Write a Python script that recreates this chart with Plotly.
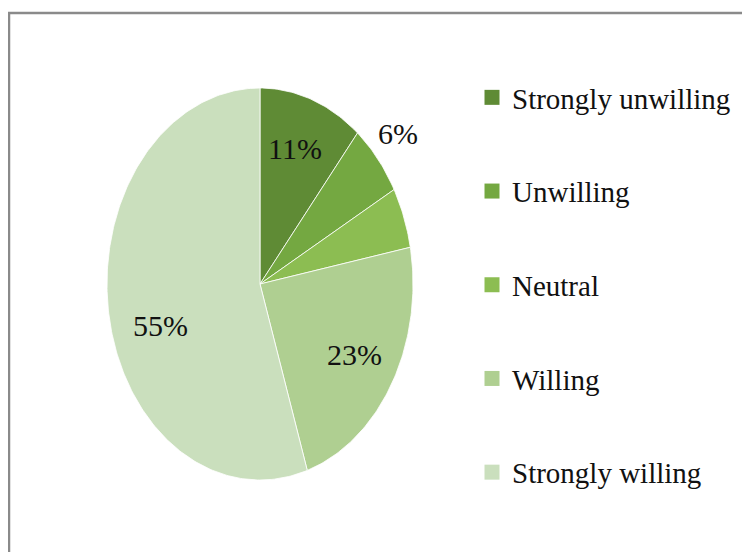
import numpy as np
import plotly.graph_objects as go

categories = ["Strongly unwilling", "Unwilling", "Neutral", "Willing", "Strongly willing"]
values = [11, 6, 5, 23, 55]
colors = ["#5F8B35", "#74A841", "#8CBD52", "#AFCF91", "#CADFBD"]

# label placement in unit (data) space, per slice
label_pos = [(0.23, 0.69), (0.90, 0.77), (1.08, 0.34), (0.62, -0.36), (-0.65, -0.21)]

W, H = 750, 552
OFF = 8  # page body margin offset
pie_left, pie_right, pie_top, pie_bottom = 107 - OFF, 413 - OFF, 88 - OFF, 480 - OFF

fig = go.Figure()
total = sum(values)
cum = 0.0
for cat, v, c in zip(categories, values, colors):
    a0 = 2 * np.pi * cum / total
    a1 = 2 * np.pi * (cum + v) / total
    t = np.linspace(a0, a1, max(8, int(v * 4)))
    xs = np.concatenate([[0], np.sin(t), [0]])
    ys = np.concatenate([[0], np.cos(t), [0]])
    fig.add_trace(go.Scatter(x=xs, y=ys, mode="lines", fill="toself", fillcolor=c,
                             line=dict(color="rgba(255,255,255,0.8)", width=1),
                             showlegend=False, hoverinfo="skip"))
    cum += v

for i, (cat, c) in enumerate(zip(categories, colors)):
    fig.add_trace(go.Scatter(x=[None], y=[None], mode="markers", name=cat,
                             legendgroup=str(i),
                             marker=dict(symbol="square", size=15, color=c)))

for v, (lx, ly) in zip(values, label_pos):
    fig.add_annotation(x=lx, y=ly, xref="x", yref="y", text=f"{v}%", showarrow=False,
                       font=dict(family="Liberation Serif", size=30, color="#111"))

# border of the chart frame
fig.add_shape(type="path", xref="paper", yref="paper",
              path=f"M {1/W} 0 L {1/W} {1-5/H} L 1 {1-5/H}",
              line=dict(color="#8a8a8a", width=2.5))

fig.update_layout(
    width=W, height=H,
    margin=dict(l=0, r=0, t=0, b=0),
    paper_bgcolor="white", plot_bgcolor="white",
    xaxis=dict(range=[-1, 1], domain=[pie_left / W, pie_right / W], visible=False, fixedrange=True),
    yaxis=dict(range=[-1, 1], domain=[1 - pie_bottom / H, 1 - pie_top / H], visible=False, fixedrange=True),
    legend=dict(x=(472 - OFF) / W, y=1 - (80 - 2 * OFF) / H, xanchor="left", yanchor="top",
                font=dict(family="Liberation Serif", size=29, color="#111"),
                tracegroupgap=53, itemwidth=30, bgcolor="rgba(0,0,0,0)"),
    showlegend=True,
)

fig.write_html("out.html")
